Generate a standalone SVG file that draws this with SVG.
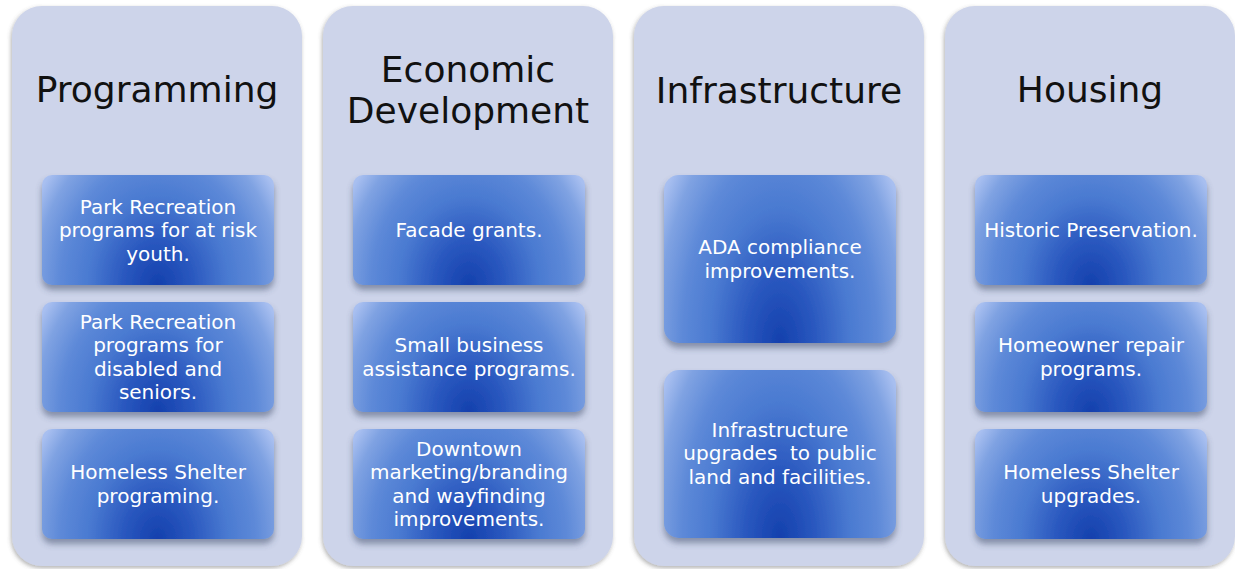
<svg xmlns="http://www.w3.org/2000/svg" width="1235" height="569" viewBox="0 0 1235 569">
<style>
.col{fill:#CDD4EA;filter:url(#colShadow)}
.box{fill:url(#boxGrad);filter:url(#boxShadow)}
.title{font-family:"DejaVu Sans","Liberation Sans",sans-serif;font-size:36px;fill:#111;text-anchor:middle}
.lbl{font-family:"DejaVu Sans","Liberation Sans",sans-serif;font-size:20px;fill:#fff;text-anchor:middle}
</style>
<defs>
<radialGradient id="boxGrad" cx="0.5" cy="1" r="1" gradientTransform="translate(0.5,1) scale(0.6,1.6) translate(-0.5,-1)">
<stop offset="0" stop-color="#1440ad"/>
<stop offset="0.25" stop-color="#2a58bf"/>
<stop offset="0.5" stop-color="#4a7ad1"/>
<stop offset="0.7" stop-color="#5d89d8"/>
<stop offset="0.88" stop-color="#7fa2e2"/>
<stop offset="1" stop-color="#a8bff0"/>
</radialGradient>
<filter id="colShadow" x="-10%" y="-10%" width="120%" height="120%">
<feGaussianBlur in="SourceAlpha" stdDeviation="2"/>
<feOffset dx="-1" dy="2" result="b"/>
<feFlood flood-color="#555" flood-opacity="0.45"/>
<feComposite in2="b" operator="in"/>
<feMerge><feMergeNode/><feMergeNode in="SourceGraphic"/></feMerge>
</filter>
<filter id="boxShadow" x="-10%" y="-10%" width="120%" height="130%">
<feGaussianBlur in="SourceAlpha" stdDeviation="3"/>
<feOffset dx="0" dy="5" result="b"/>
<feFlood flood-color="#3a4866" flood-opacity="0.5"/>
<feComposite in2="b" operator="in"/>
<feMerge><feMergeNode/><feMergeNode in="SourceGraphic"/></feMerge>
</filter>
</defs>
<rect width="1235" height="569" fill="#fff"/>

<g id="col-programming">
<rect class="col" x="12" y="6" width="290" height="560" rx="30"/>
<text class="title" x="157" y="102">Programming</text>
</g>
<g id="prog-1">
<rect class="box" x="42" y="175" width="232" height="110" rx="10"/>
<text class="lbl" x="158" y="213.5">Park Recreation</text>
<text class="lbl" x="158" y="237">programs for at risk</text>
<text class="lbl" x="158" y="260.5">youth.</text>
</g>
<g id="prog-2">
<rect class="box" x="42" y="302" width="232" height="110" rx="10"/>
<text class="lbl" x="158" y="328.75">Park Recreation</text>
<text class="lbl" x="158" y="352.25">programs for</text>
<text class="lbl" x="158" y="375.75">disabled and</text>
<text class="lbl" x="158" y="399.25">seniors.</text>
</g>
<g id="prog-3">
<rect class="box" x="42" y="429" width="232" height="110" rx="10"/>
<text class="lbl" x="158" y="479.25">Homeless Shelter</text>
<text class="lbl" x="158" y="502.75">programing.</text>
</g>

<g id="col-economic">
<rect class="col" x="323" y="6" width="290" height="560" rx="30"/>
<text class="title" x="468" y="82">Economic</text>
<text class="title" x="468" y="123">Development</text>
</g>
<g id="econ-1">
<rect class="box" x="353" y="175" width="232" height="110" rx="10"/>
<text class="lbl" x="469" y="237">Facade grants.</text>
</g>
<g id="econ-2">
<rect class="box" x="353" y="302" width="232" height="110" rx="10"/>
<text class="lbl" x="469" y="352.25">Small business</text>
<text class="lbl" x="469" y="375.75">assistance programs.</text>
</g>
<g id="econ-3">
<rect class="box" x="353" y="429" width="232" height="110" rx="10"/>
<text class="lbl" x="469" y="455.75">Downtown</text>
<text class="lbl" x="469" y="479.25">marketing/branding</text>
<text class="lbl" x="469" y="502.75">and wayfinding</text>
<text class="lbl" x="469" y="526.25">improvements.</text>
</g>

<g id="col-infrastructure">
<rect class="col" x="634" y="6" width="290" height="560" rx="30"/>
<text class="title" x="779" y="103">Infrastructure</text>
</g>
<g id="infra-1">
<rect class="box" x="664" y="175" width="232" height="168" rx="15"/>
<text class="lbl" x="780" y="254.25">ADA compliance</text>
<text class="lbl" x="780" y="277.75">improvements.</text>
</g>
<g id="infra-2">
<rect class="box" x="664" y="370" width="232" height="168" rx="15"/>
<text class="lbl" x="780" y="436.5">Infrastructure</text>
<text class="lbl" x="780" y="460" xml:space="preserve">upgrades  to public</text>
<text class="lbl" x="780" y="483.5">land and facilities.</text>
</g>

<g id="col-housing">
<rect class="col" x="945" y="6" width="290" height="560" rx="30"/>
<text class="title" x="1090" y="102">Housing</text>
</g>
<g id="house-1">
<rect class="box" x="975" y="175" width="232" height="110" rx="10"/>
<text class="lbl" x="1091" y="237">Historic Preservation.</text>
</g>
<g id="house-2">
<rect class="box" x="975" y="302" width="232" height="110" rx="10"/>
<text class="lbl" x="1091" y="352.25">Homeowner repair</text>
<text class="lbl" x="1091" y="375.75">programs.</text>
</g>
<g id="house-3">
<rect class="box" x="975" y="429" width="232" height="110" rx="10"/>
<text class="lbl" x="1091" y="479.25">Homeless Shelter</text>
<text class="lbl" x="1091" y="502.75">upgrades.</text>
</g>

<g id="connectors"/>
</svg>
